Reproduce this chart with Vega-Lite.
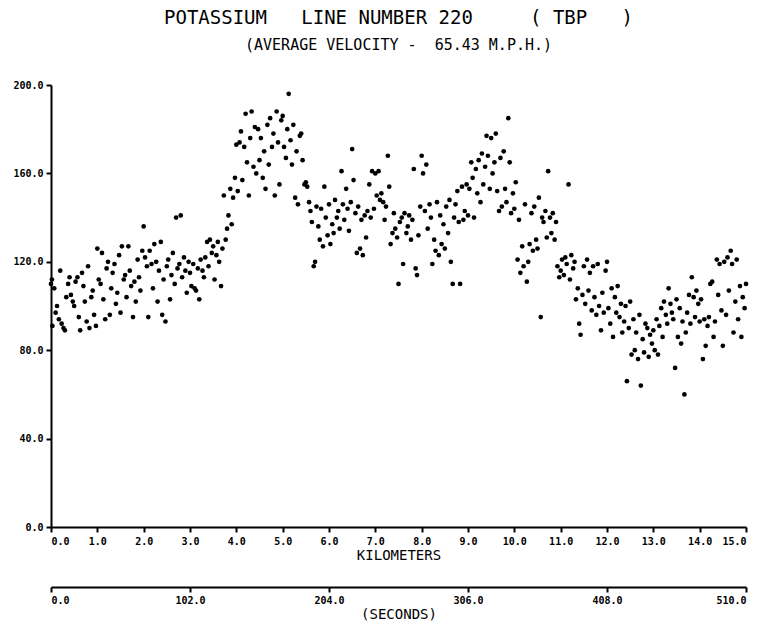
{
"$schema":"https://vega.github.io/schema/vega-lite/v6.json",
"width":695,"height":442,
"autosize":{"type":"none"},
"padding":{"left":51,"top":85,"right":19,"bottom":100},
"background":"white",
"title":{"text":"POTASSIUM\u00a0\u00a0\u00a0LINE NUMBER 220\u00a0\u00a0\u00a0\u00a0\u00a0(\u00a0TBP\u00a0\u00a0\u00a0)","subtitle":"(AVERAGE VELOCITY -\u00a0\u00a065.43 M.P.H.)","font":"DejaVu Sans Mono","fontSize":19,"fontWeight":"normal","subtitleFont":"DejaVu Sans Mono","subtitleFontSize":15,"subtitlePadding":10,"color":"black","subtitleColor":"black","anchor":"middle","offset":27},
"config":{"view":{"stroke":null},"axis":{"domainColor":"black","domainWidth":2,"tickColor":"black","tickWidth":2,"tickSize":5,"labelColor":"black","labelFont":"DejaVu Sans Mono","labelFontSize":10,"labelFontWeight":"bold","titleFont":"DejaVu Sans Mono","titleFontSize":14,"titleFontWeight":"normal","titleColor":"black","grid":false}},
"layer":[
{"data":{"values":[
{"km":0.00,"cps":110},{"km":0.02,"cps":112},{"km":0.03,"cps":91},{"km":0.07,"cps":108},{"km":0.10,"cps":97},{"km":0.13,"cps":100},{"km":0.17,"cps":94},{"km":0.20,"cps":116},{"km":0.23,"cps":92},{"km":0.27,"cps":90},{"km":0.30,"cps":89},{"km":0.33,"cps":104},{"km":0.37,"cps":110},{"km":0.40,"cps":113},{"km":0.43,"cps":105},{"km":0.47,"cps":102},
{"km":0.50,"cps":100},{"km":0.53,"cps":111},{"km":0.57,"cps":113},{"km":0.60,"cps":95},{"km":0.63,"cps":89},{"km":0.67,"cps":115},{"km":0.70,"cps":109},{"km":0.73,"cps":102},{"km":0.77,"cps":93},{"km":0.80,"cps":118},{"km":0.83,"cps":90},{"km":0.87,"cps":104},{"km":0.90,"cps":107},{"km":0.93,"cps":96},{"km":0.97,"cps":91},
{"km":1.00,"cps":126},{"km":1.03,"cps":112},{"km":1.07,"cps":110},{"km":1.10,"cps":124},{"km":1.13,"cps":103},{"km":1.17,"cps":94},{"km":1.20,"cps":117},{"km":1.23,"cps":120},{"km":1.27,"cps":96},{"km":1.30,"cps":108},{"km":1.33,"cps":115},{"km":1.37,"cps":119},{"km":1.40,"cps":101},{"km":1.43,"cps":106},{"km":1.47,"cps":123},
{"km":1.50,"cps":97},{"km":1.53,"cps":127},{"km":1.57,"cps":112},{"km":1.60,"cps":114},{"km":1.63,"cps":104},{"km":1.67,"cps":127},{"km":1.70,"cps":116},{"km":1.73,"cps":109},{"km":1.77,"cps":95},{"km":1.80,"cps":111},{"km":1.83,"cps":102},{"km":1.87,"cps":121},{"km":1.90,"cps":113},{"km":1.93,"cps":107},{"km":1.97,"cps":125},
{"km":2.00,"cps":136},{"km":2.03,"cps":122},{"km":2.07,"cps":118},{"km":2.10,"cps":95},{"km":2.13,"cps":125},{"km":2.17,"cps":119},{"km":2.20,"cps":108},{"km":2.23,"cps":128},{"km":2.27,"cps":120},{"km":2.30,"cps":102},{"km":2.33,"cps":116},{"km":2.37,"cps":129},{"km":2.40,"cps":96},{"km":2.43,"cps":112},{"km":2.47,"cps":93},
{"km":2.50,"cps":118},{"km":2.53,"cps":121},{"km":2.57,"cps":103},{"km":2.60,"cps":114},{"km":2.63,"cps":124},{"km":2.67,"cps":110},{"km":2.70,"cps":140},{"km":2.73,"cps":117},{"km":2.77,"cps":119},{"km":2.80,"cps":141},{"km":2.83,"cps":113},{"km":2.87,"cps":122},{"km":2.90,"cps":116},{"km":2.93,"cps":106},{"km":2.97,"cps":120},
{"km":3.00,"cps":115},{"km":3.03,"cps":109},{"km":3.07,"cps":119},{"km":3.10,"cps":108},{"km":3.13,"cps":107},{"km":3.17,"cps":117},{"km":3.20,"cps":103},{"km":3.23,"cps":121},{"km":3.27,"cps":116},{"km":3.30,"cps":113},{"km":3.33,"cps":122},{"km":3.37,"cps":129},{"km":3.40,"cps":118},{"km":3.43,"cps":130},{"km":3.47,"cps":124},
{"km":3.50,"cps":127},{"km":3.53,"cps":112},{"km":3.57,"cps":123},{"km":3.60,"cps":129},{"km":3.63,"cps":120},{"km":3.67,"cps":109},{"km":3.70,"cps":126},{"km":3.73,"cps":150},{"km":3.77,"cps":130},{"km":3.80,"cps":135},{"km":3.83,"cps":141},{"km":3.87,"cps":153},{"km":3.90,"cps":137},{"km":3.93,"cps":149},{"km":3.97,"cps":158},
{"km":4.00,"cps":173},{"km":4.03,"cps":152},{"km":4.07,"cps":174},{"km":4.10,"cps":179},{"km":4.13,"cps":157},{"km":4.17,"cps":172},{"km":4.20,"cps":187},{"km":4.23,"cps":165},{"km":4.27,"cps":150},{"km":4.30,"cps":176},{"km":4.33,"cps":188},{"km":4.37,"cps":163},{"km":4.40,"cps":181},{"km":4.43,"cps":160},{"km":4.47,"cps":180},
{"km":4.50,"cps":166},{"km":4.53,"cps":176},{"km":4.57,"cps":158},{"km":4.60,"cps":170},{"km":4.63,"cps":153},{"km":4.67,"cps":182},{"km":4.70,"cps":164},{"km":4.73,"cps":185},{"km":4.77,"cps":172},{"km":4.80,"cps":178},{"km":4.83,"cps":150},{"km":4.87,"cps":188},{"km":4.90,"cps":174},{"km":4.93,"cps":155},{"km":4.97,"cps":184},
{"km":5.00,"cps":186},{"km":5.03,"cps":172},{"km":5.07,"cps":167},{"km":5.10,"cps":180},{"km":5.13,"cps":196},{"km":5.17,"cps":175},{"km":5.20,"cps":164},{"km":5.23,"cps":182},{"km":5.27,"cps":149},{"km":5.30,"cps":170},{"km":5.33,"cps":146},{"km":5.37,"cps":177},{"km":5.40,"cps":178},{"km":5.43,"cps":166},{"km":5.47,"cps":155},
{"km":5.50,"cps":156},{"km":5.53,"cps":154},{"km":5.57,"cps":147},{"km":5.60,"cps":143},{"km":5.63,"cps":138},{"km":5.67,"cps":118},{"km":5.70,"cps":120},{"km":5.73,"cps":145},{"km":5.77,"cps":136},{"km":5.80,"cps":130},{"km":5.83,"cps":144},{"km":5.87,"cps":127},{"km":5.90,"cps":154},{"km":5.93,"cps":140},{"km":5.97,"cps":132},
{"km":6.00,"cps":146},{"km":6.03,"cps":128},{"km":6.07,"cps":137},{"km":6.10,"cps":133},{"km":6.13,"cps":148},{"km":6.17,"cps":140},{"km":6.20,"cps":143},{"km":6.23,"cps":135},{"km":6.27,"cps":161},{"km":6.30,"cps":146},{"km":6.33,"cps":139},{"km":6.37,"cps":153},{"km":6.40,"cps":144},{"km":6.43,"cps":134},{"km":6.47,"cps":147},
{"km":6.50,"cps":171},{"km":6.53,"cps":157},{"km":6.57,"cps":142},{"km":6.60,"cps":124},{"km":6.63,"cps":145},{"km":6.67,"cps":126},{"km":6.70,"cps":139},{"km":6.73,"cps":123},{"km":6.77,"cps":141},{"km":6.80,"cps":131},{"km":6.83,"cps":143},{"km":6.87,"cps":155},{"km":6.90,"cps":140},{"km":6.93,"cps":161},{"km":6.97,"cps":144},
{"km":7.00,"cps":160},{"km":7.03,"cps":150},{"km":7.07,"cps":161},{"km":7.10,"cps":148},{"km":7.13,"cps":151},{"km":7.17,"cps":147},{"km":7.20,"cps":139},{"km":7.23,"cps":145},{"km":7.27,"cps":168},{"km":7.30,"cps":154},{"km":7.33,"cps":128},{"km":7.37,"cps":133},{"km":7.40,"cps":142},{"km":7.43,"cps":135},{"km":7.47,"cps":131},
{"km":7.50,"cps":110},{"km":7.53,"cps":138},{"km":7.57,"cps":140},{"km":7.60,"cps":119},{"km":7.63,"cps":142},{"km":7.67,"cps":133},{"km":7.70,"cps":136},{"km":7.73,"cps":141},{"km":7.77,"cps":130},{"km":7.80,"cps":139},{"km":7.83,"cps":162},{"km":7.87,"cps":117},{"km":7.90,"cps":114},{"km":7.93,"cps":132},{"km":7.97,"cps":145},
{"km":8.00,"cps":168},{"km":8.03,"cps":160},{"km":8.07,"cps":143},{"km":8.10,"cps":164},{"km":8.13,"cps":135},{"km":8.17,"cps":146},{"km":8.20,"cps":140},{"km":8.23,"cps":119},{"km":8.27,"cps":130},{"km":8.30,"cps":125},{"km":8.33,"cps":147},{"km":8.37,"cps":123},{"km":8.40,"cps":141},{"km":8.43,"cps":128},{"km":8.47,"cps":137},
{"km":8.50,"cps":126},{"km":8.53,"cps":145},{"km":8.57,"cps":133},{"km":8.60,"cps":148},{"km":8.63,"cps":120},{"km":8.67,"cps":110},{"km":8.70,"cps":140},{"km":8.73,"cps":146},{"km":8.77,"cps":152},{"km":8.80,"cps":138},{"km":8.83,"cps":110},{"km":8.87,"cps":154},{"km":8.90,"cps":139},{"km":8.93,"cps":143},{"km":8.97,"cps":155},
{"km":9.00,"cps":141},{"km":9.03,"cps":153},{"km":9.07,"cps":165},{"km":9.10,"cps":158},{"km":9.13,"cps":140},{"km":9.17,"cps":162},{"km":9.20,"cps":151},{"km":9.23,"cps":166},{"km":9.27,"cps":147},{"km":9.30,"cps":169},{"km":9.33,"cps":155},{"km":9.37,"cps":163},{"km":9.40,"cps":177},{"km":9.43,"cps":168},{"km":9.47,"cps":153},
{"km":9.50,"cps":176},{"km":9.53,"cps":160},{"km":9.57,"cps":165},{"km":9.60,"cps":178},{"km":9.63,"cps":152},{"km":9.67,"cps":143},{"km":9.70,"cps":167},{"km":9.73,"cps":145},{"km":9.77,"cps":170},{"km":9.80,"cps":153},{"km":9.83,"cps":147},{"km":9.87,"cps":185},{"km":9.90,"cps":165},{"km":9.93,"cps":142},{"km":9.97,"cps":151},
{"km":10.00,"cps":144},{"km":10.03,"cps":156},{"km":10.07,"cps":121},{"km":10.10,"cps":139},{"km":10.13,"cps":115},{"km":10.17,"cps":127},{"km":10.20,"cps":118},{"km":10.23,"cps":146},{"km":10.27,"cps":111},{"km":10.30,"cps":120},{"km":10.33,"cps":128},{"km":10.37,"cps":142},{"km":10.40,"cps":125},{"km":10.43,"cps":145},{"km":10.47,"cps":130},
{"km":10.50,"cps":126},{"km":10.53,"cps":149},{"km":10.57,"cps":95},{"km":10.60,"cps":140},{"km":10.63,"cps":138},{"km":10.67,"cps":143},{"km":10.70,"cps":131},{"km":10.73,"cps":161},{"km":10.77,"cps":140},{"km":10.80,"cps":133},{"km":10.83,"cps":142},{"km":10.87,"cps":130},{"km":10.90,"cps":138},{"km":10.93,"cps":118},{"km":10.97,"cps":113},
{"km":11.00,"cps":116},{"km":11.03,"cps":121},{"km":11.07,"cps":114},{"km":11.10,"cps":122},{"km":11.13,"cps":119},{"km":11.17,"cps":155},{"km":11.20,"cps":112},{"km":11.23,"cps":123},{"km":11.27,"cps":117},{"km":11.30,"cps":120},{"km":11.33,"cps":103},{"km":11.37,"cps":108},{"km":11.40,"cps":92},{"km":11.43,"cps":87},{"km":11.47,"cps":105},
{"km":11.50,"cps":118},{"km":11.53,"cps":101},{"km":11.57,"cps":121},{"km":11.60,"cps":107},{"km":11.63,"cps":115},{"km":11.67,"cps":98},{"km":11.70,"cps":118},{"km":11.73,"cps":104},{"km":11.77,"cps":96},{"km":11.80,"cps":119},{"km":11.83,"cps":100},{"km":11.87,"cps":89},{"km":11.90,"cps":106},{"km":11.93,"cps":97},{"km":11.97,"cps":116},
{"km":12.00,"cps":120},{"km":12.03,"cps":99},{"km":12.07,"cps":92},{"km":12.10,"cps":108},{"km":12.13,"cps":86},{"km":12.17,"cps":104},{"km":12.20,"cps":97},{"km":12.23,"cps":109},{"km":12.27,"cps":95},{"km":12.30,"cps":101},{"km":12.33,"cps":88},{"km":12.37,"cps":93},{"km":12.40,"cps":100},{"km":12.43,"cps":66},{"km":12.47,"cps":90},
{"km":12.50,"cps":102},{"km":12.53,"cps":78},{"km":12.57,"cps":94},{"km":12.60,"cps":80},{"km":12.63,"cps":88},{"km":12.67,"cps":76},{"km":12.70,"cps":96},{"km":12.73,"cps":64},{"km":12.77,"cps":85},{"km":12.80,"cps":79},{"km":12.83,"cps":92},{"km":12.87,"cps":90},{"km":12.90,"cps":77},{"km":12.93,"cps":87},{"km":12.97,"cps":83},
{"km":13.00,"cps":89},{"km":13.03,"cps":80},{"km":13.07,"cps":94},{"km":13.10,"cps":78},{"km":13.13,"cps":91},{"km":13.17,"cps":99},{"km":13.20,"cps":86},{"km":13.23,"cps":102},{"km":13.27,"cps":96},{"km":13.30,"cps":92},{"km":13.33,"cps":108},{"km":13.37,"cps":101},{"km":13.40,"cps":97},{"km":13.43,"cps":94},{"km":13.47,"cps":72},
{"km":13.50,"cps":103},{"km":13.53,"cps":86},{"km":13.57,"cps":99},{"km":13.60,"cps":83},{"km":13.63,"cps":93},{"km":13.67,"cps":60},{"km":13.70,"cps":88},{"km":13.73,"cps":97},{"km":13.77,"cps":105},{"km":13.80,"cps":92},{"km":13.83,"cps":113},{"km":13.87,"cps":104},{"km":13.90,"cps":95},{"km":13.93,"cps":107},{"km":13.97,"cps":101},
{"km":14.00,"cps":93},{"km":14.03,"cps":103},{"km":14.07,"cps":76},{"km":14.10,"cps":94},{"km":14.13,"cps":82},{"km":14.17,"cps":91},{"km":14.20,"cps":95},{"km":14.23,"cps":110},{"km":14.27,"cps":111},{"km":14.30,"cps":86},{"km":14.33,"cps":93},{"km":14.37,"cps":121},{"km":14.40,"cps":105},{"km":14.43,"cps":119},{"km":14.47,"cps":98},
{"km":14.50,"cps":82},{"km":14.53,"cps":120},{"km":14.57,"cps":96},{"km":14.60,"cps":122},{"km":14.63,"cps":107},{"km":14.67,"cps":125},{"km":14.70,"cps":119},{"km":14.73,"cps":88},{"km":14.77,"cps":102},{"km":14.80,"cps":121},{"km":14.83,"cps":94},{"km":14.87,"cps":109},{"km":14.90,"cps":86},{"km":14.93,"cps":104},{"km":14.97,"cps":99},{"km":15.00,"cps":110}
]},
"mark":{"type":"circle","size":22,"color":"black","opacity":1},
"encoding":{
"x":{"field":"km","type":"quantitative","scale":{"domain":[0,15],"nice":false,"zero":false},"axis":{"values":[0,1,2,3,4,5,6,7,8,9,10,11,12,13,14,15],"format":".1f","title":"KILOMETERS","labelPadding":4,"titlePadding":2}},
"y":{"field":"cps","type":"quantitative","scale":{"domain":[0,200],"nice":false},"axis":{"values":[0,40,80,120,160,200],"format":".1f","title":null,"labelPadding":3}}
}},
{"data":{"values":[{"sec":0},{"sec":510}]},
"mark":{"type":"point","opacity":0},
"encoding":{
"x":{"field":"sec","type":"quantitative","scale":{"domain":[0,510],"nice":false},"axis":{"orient":"bottom","offset":60,"values":[0,102,204,306,408,510],"format":".1f","title":"(SECONDS)","labelPadding":3,"titlePadding":2}}
}}
],
"resolve":{"scale":{"x":"independent"},"axis":{"x":"independent"}}
}
